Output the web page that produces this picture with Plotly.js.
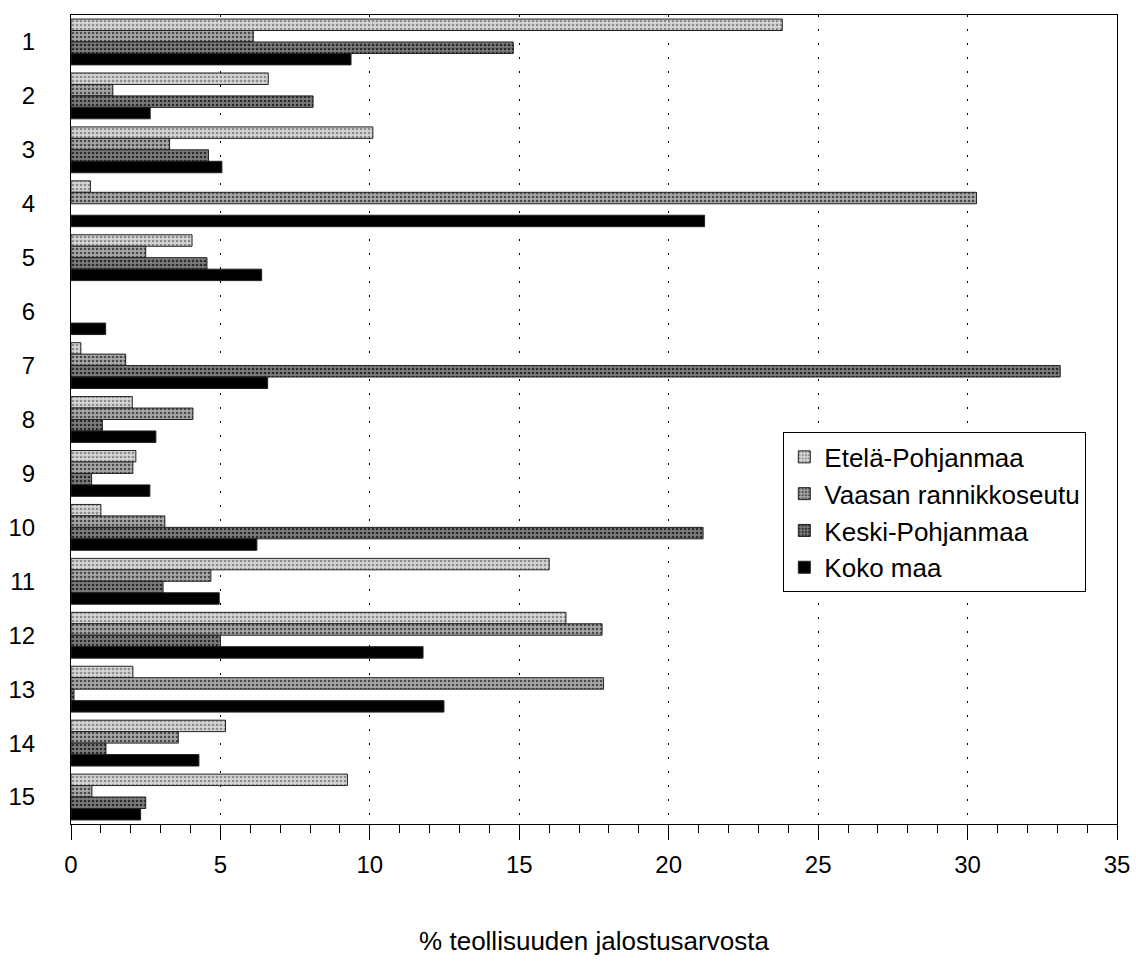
<!DOCTYPE html>
<html>
<head>
<meta charset="utf-8">
<script src="https://cdn.plot.ly/plotly-3.0.1.min.js"></script>
<style>html,body{margin:0;padding:0;background:#fff;}#chart{width:1136px;height:967px;}</style>
</head>
<body>
<div id="chart"></div>
<script>
const categories = ["1","2","3","4","5","6","7","8","9","10","11","12","13","14","15"];
const seriesNames = ["Etelä-Pohjanmaa","Vaasan rannikkoseutu","Keski-Pohjanmaa","Koko maa"];
const etelaPohjanmaa = [23.8, 6.6, 10.1, 0.65, 4.05, null, 0.33, 2.05, 2.17, 1.0, 16.0, 16.56, 2.07, 5.17, 9.25];
const vaasanRannikkoseutu = [6.1, 1.4, 3.3, 30.3, 2.5, null, 1.83, 4.08, 2.07, 3.14, 4.68, 17.77, 17.82, 3.59, 0.7];
const keskiPohjanmaa = [14.8, 8.1, 4.6, null, 4.55, null, 33.1, 1.05, 0.69, 21.15, 3.08, 5.0, 0.1, 1.17, 2.5];
const kokoMaa = [9.37, 2.65, 5.05, 21.2, 6.38, 1.16, 6.58, 2.84, 2.64, 6.22, 4.96, 11.78, 12.48, 4.28, 2.33];
const xTickValues = [0,5,10,15,20,25,30,35];

const values = [etelaPohjanmaa, vaasanRannikkoseutu, keskiPohjanmaa, kokoMaa];
const styles = [
  {bg:'#d6d6d6', fg:'#8c8c8c'},
  {bg:'#a8a8a8', fg:'#4a4a4a'},
  {bg:'#7c7c7c', fg:'#2a2a2a'},
  {bg:'#000000', fg:'#000000'}
];

const traces = values.map((v, i) => ({
  type: 'bar',
  orientation: 'h',
  name: seriesNames[i],
  legendgroup: 'g' + i,
  x: v,
  y: categories,
  marker: {
    color: styles[i].bg,
    line: {color: '#222', width: 1},
    pattern: i < 3 ? {shape: '.', bgcolor: styles[i].bg, fgcolor: styles[i].fg, size: 4, solidity: 0.35, fillmode: 'replace'} : {shape: ''}
  },
  hoverinfo: 'x+name'
}));

const layout = {
  width: 1136,
  height: 967,
  margin: {l: 71, r: 19, t: 15, b: 143},
  paper_bgcolor: '#fff',
  plot_bgcolor: '#fff',
  font: {family: 'Liberation Sans, Arial, sans-serif', size: 24, color: '#000'},
  barmode: 'group',
  bargap: 0.15,
  bargroupgap: 0,
  showlegend: true,
  legend: {
    x: 0.681, y: 0.484, xanchor: 'left', yanchor: 'top',
    bgcolor: '#fff', bordercolor: '#000', borderwidth: 1,
    font: {size: 26, family: 'Liberation Sans, Arial, sans-serif'},
    tracegroupgap: 5,
    traceorder: 'normal',
    itemwidth: 30
  },
  xaxis: {
    range: [0, 35],
    tickvals: xTickValues,
    ticktext: xTickValues.map(String),
    ticks: 'outside', ticklen: 15, tickwidth: 1, tickcolor: '#000',
    minor: {dtick: 1, ticks: 'outside', ticklen: 8, tickcolor: '#000', showgrid: false},
    showline: true, linecolor: '#000', linewidth: 1, mirror: true,
    showgrid: true, gridcolor: '#000', gridwidth: 1, griddash: '2px,12px',
    zeroline: false,
    ticklabelstandoff: 4,
    tickfont: {size: 24},
    title: {text: '% teollisuuden jalostusarvosta', font: {size: 26}, standoff: 55}
  },
  yaxis: {
    type: 'category',
    autorange: 'reversed',
    ticks: '',
    showline: true, linecolor: '#000', linewidth: 1, mirror: true,
    showgrid: false, zeroline: false,
    ticklabelstandoff: 30,
    tickfont: {size: 24}
  }
};

Plotly.newPlot('chart', traces, layout, {displayModeBar: false, staticPlot: true});
</script>
</body>
</html>
